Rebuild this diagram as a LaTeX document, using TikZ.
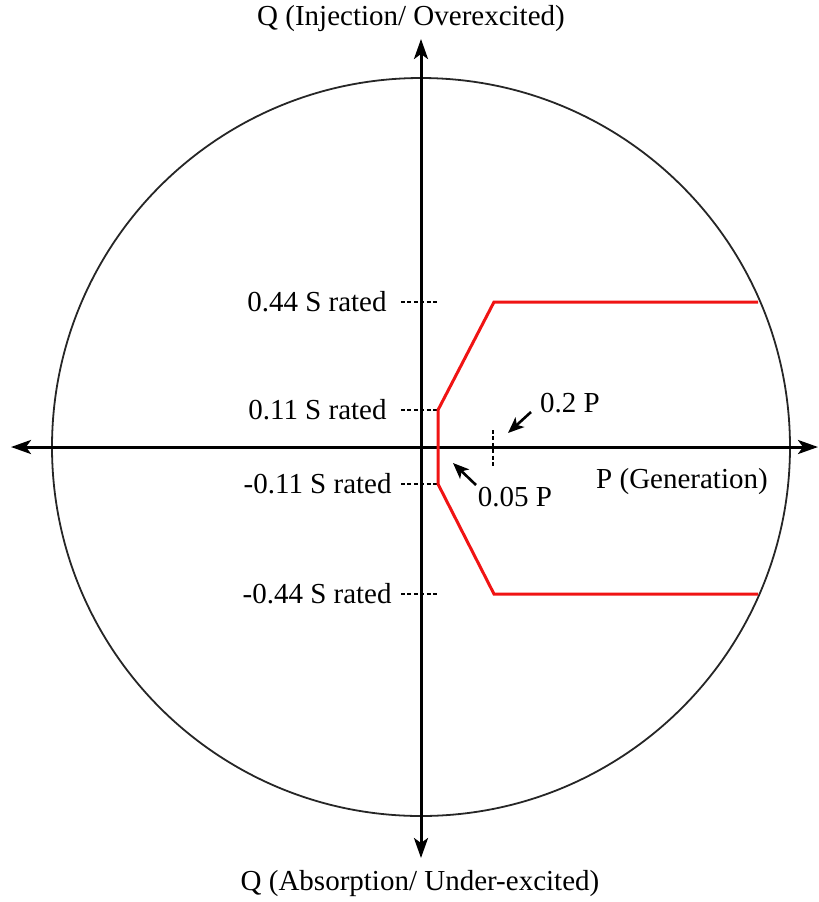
\documentclass[tikz,border=0pt]{standalone}
\usepackage{fontspec}
\setmainfont{Liberation Serif}
\usepackage{tikz}
\usetikzlibrary{arrows.meta, positioning, calc}
\definecolor{LimRed}{RGB}{240,20,20}

\begin{document}
\begin{tikzpicture}[x=0.5pt, y=-0.5pt,
          axis/.style={{Stealth[length=10pt, width=7pt, inset=2.5pt]}-{Stealth[length=10pt, width=7pt, inset=2.5pt]},
                       line width=1.5pt},
          tick/.style={dash pattern=on 2pt off 1.2pt, line width=1.2pt},
          lbl/.style={font=\fontsize{14.5}{17}\selectfont, inner sep=1pt},
          ptr/.style={-{Stealth[length=8pt, width=6.5pt, inset=2pt]}, line width=1.3pt},
          limit/.style={LimRed, line width=1.5pt, line join=miter}
        ]
        \useasboundingbox (0,0) rectangle (819,902);

        % capability circle and axes
        \coordinate (o) at (421,447);
        \draw[line width=0.9pt, black!85] (o) circle[radius=369];
        \coordinate (xl) at (11,447);
        \coordinate (xr) at (818,447);
        \coordinate (yt) at (421,39);
        \coordinate (yb) at (421,858);
        \draw[axis] (xl) -- (xr);
        \draw[axis] (yb) -- (yt);

        % axis titles
        \node[lbl] (qtop) at (411,19) {Q (Injection/ Overexcited)};
        \node[lbl] (qbot) at (420,884) {Q (Absorption/ Under-excited)};
        \node[lbl] (pgen) at (682,482) {P (Generation)};

        % Q levels
        \foreach \y/\nm/\txt/\xe in {302/qa/0.44/389, 410/qb/0.11/389, 484/qc/-0.11/394, 594/qd/-0.44/394} {
          \coordinate (\nm l) at (401,\y);
          \coordinate (\nm r) at (437,\y);
          \draw[tick] (\nm l) -- (\nm r);
          \node[lbl, anchor=east] (\nm t) at (\xe,\y) {\txt\ S rated};
        }

        % P levels
        \coordinate (pt) at (493,430);
        \coordinate (pb) at (493,467);
        \draw[tick] (pt) -- (pb);

        % operating limit
        \coordinate (ra) at (758,302);
        \coordinate (rb) at (494,302);
        \coordinate (rc) at (438,410);
        \coordinate (rd) at (438,484);
        \coordinate (re) at (494,594);
        \coordinate (rf) at (758,594);
        \draw[limit] (ra) -- (rb) -- (rc) -- (rd) -- (re) -- (rf);

        % pointers
        \node[lbl] (ptwo) at (570,403) {0.2 P};
        \node[lbl] (pfive) at (515,497) {0.05 P};
        \coordinate (ptwoa) at (531,412);
        \coordinate (ptwob) at (508,433);
        \coordinate (pfivea) at (476,485);
        \coordinate (pfiveb) at (453,463);
        \draw[ptr] (ptwoa) -- (ptwob);
        \draw[ptr] (pfivea) -- (pfiveb);
      \end{tikzpicture}
\end{document}
